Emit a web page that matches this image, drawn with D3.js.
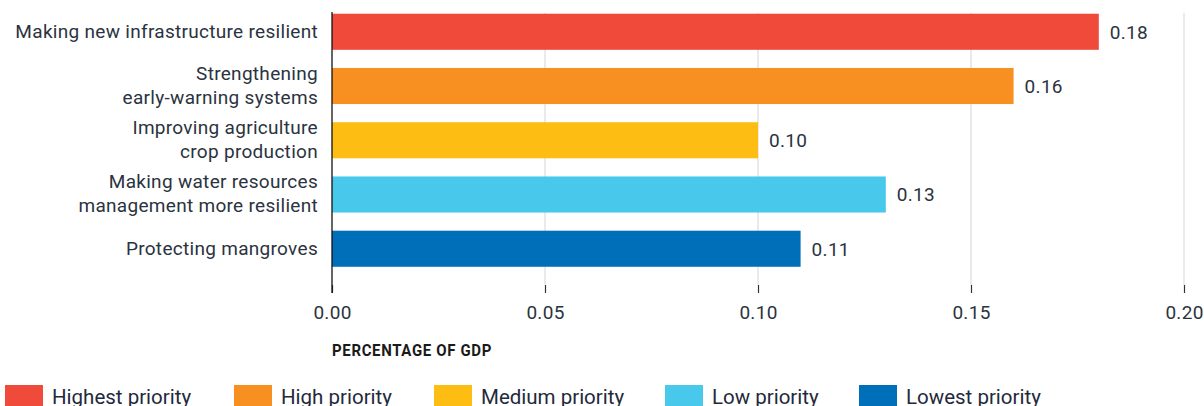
<!DOCTYPE html>
<html><head><meta charset="utf-8">
<script src="https://cdn.jsdelivr.net/npm/d3@7"></script>
<style>
html,body{margin:0;padding:0;background:#fff;}
svg{display:block;font-family:Roboto,"Noto Sans",sans-serif;}
</style></head>
<body><svg id="c" width="1204" height="406"></svg>
<script>
const categories = [
  ["Making new infrastructure resilient"],
  ["Strengthening", "early-warning systems"],
  ["Improving agriculture", "crop production"],
  ["Making water resources", "management more resilient"],
  ["Protecting mangroves"]
];
const values = [0.18, 0.16, 0.10, 0.13, 0.11];
const priorities = ["Highest priority", "High priority", "Medium priority", "Low priority", "Lowest priority"];
const colors = ["#f04a3a", "#f79020", "#fdbd12", "#48c8ea", "#006fb9"];
const ticks = [0, 0.05, 0.10, 0.15, 0.20];
const axisTitle = "PERCENTAGE OF GDP";

const svg = d3.select("#c");
const x = d3.scaleLinear().domain([0, 0.20]).range([332, 1184]);
const y = d3.scaleBand().domain(d3.range(values.length)).range([4.5, 276]).paddingInner(0.335).paddingOuter(0.17);
const FS = 19, LS = 0.3, TXT = "#2b3340";

// gridlines
svg.append("g").selectAll("line").data(ticks.slice(1)).join("line")
  .attr("x1", d => x(d)).attr("x2", d => x(d))
  .attr("y1", 13).attr("y2", 285)
  .attr("stroke", "#dcdcdc").attr("stroke-width", 1.2);

// x axis
const xAxis = d3.axisBottom(x).tickValues(ticks).tickFormat(d3.format(".2f")).tickSize(8).tickSizeOuter(0);
const gx = svg.append("g").attr("transform", "translate(0,285)").call(xAxis);
gx.select(".domain").remove();
gx.selectAll(".tick line").attr("stroke", "#333").attr("stroke-width", 1.2);
gx.selectAll(".tick text").attr("font-size", FS).attr("letter-spacing", LS).attr("fill", TXT)
  .attr("dy", null).attr("y", 34).attr("font-family", "Roboto");

// bars
svg.append("g").selectAll("rect").data(values).join("rect")
  .attr("x", x(0)).attr("y", (d, i) => y(i))
  .attr("width", d => x(d) - x(0)).attr("height", y.bandwidth())
  .attr("fill", (d, i) => colors[i]);

// y axis line
svg.append("line").attr("x1", x(0)).attr("x2", x(0)).attr("y1", 12).attr("y2", 293)
  .attr("stroke", "#111").attr("stroke-width", 1.3);

// value labels
svg.append("g").selectAll("text").data(values).join("text")
  .attr("x", d => x(d) + 11).attr("y", (d, i) => y(i) + y.bandwidth() / 2)
  .attr("dy", "0.36em").attr("font-size", FS).attr("letter-spacing", LS).attr("fill", TXT)
  .text(d => d3.format(".2f")(d));

// category labels
const cl = svg.append("g").selectAll("text").data(categories).join("text")
  .attr("text-anchor", "end").attr("font-size", FS).attr("letter-spacing", LS).attr("fill", TXT)
  .attr("y", (d, i) => y(i) + y.bandwidth() / 2 - 1);
cl.each(function(lines) {
  const t = d3.select(this);
  const n = lines.length;
  lines.forEach((ln, k) => {
    t.append("tspan").attr("x", 318)
      .attr("dy", k === 0 ? ((0.36 - (n - 1) * 0.63) + "em") : "1.26em")
      .text(ln);
  });
});

// axis title
svg.append("text").attr("x", 0).attr("y", 0).attr("font-size", 15).attr("font-weight", 700)
  .attr("fill", "#1a1a1a").attr("letter-spacing", 0.65).attr("font-family", "Roboto")
  .attr("transform", "translate(332,356) scale(1,1.12)")
  .text(axisTitle);

// legend
const legX = [5, 234, 434, 665, 859];
const lg = svg.append("g").selectAll("g").data(priorities).join("g")
  .attr("transform", (d, i) => `translate(${legX[i]},385)`);
lg.append("rect").attr("width", 38).attr("height", 24).attr("fill", (d, i) => colors[i]);
lg.append("text").attr("x", 47).attr("y", 19)
  .attr("font-size", 20.5).attr("fill", "#1f2a3c").text(d => d);
</script></body></html>
